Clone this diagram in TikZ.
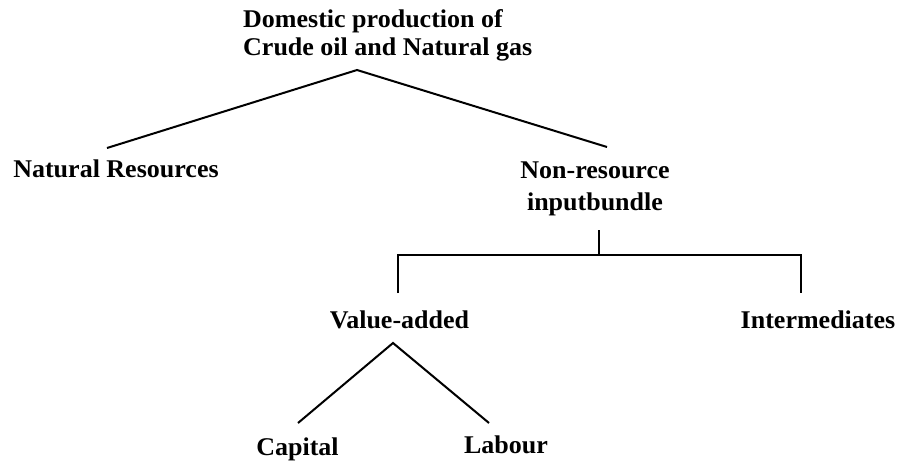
\documentclass[tikz,border=0pt]{standalone}
\usepackage{fontspec}
\setmainfont{Liberation Serif}[FakeStretch=1.02]
\begin{document}
\begin{tikzpicture}[x=1pt,y=-1pt,
  lbl/.style={inner sep=0pt,font=\fontsize{25.5}{28}\selectfont\bfseries},
  conn/.style={line width=2pt,line cap=butt,line join=miter}]
\useasboundingbox (0,0) rectangle (899,467);
% labels (multi-line nodes: base anchor is the last line's baseline)
\node[lbl,anchor=base west,align=left] (top) at (243,55) {Domestic production of\\Crude oil and Natural gas};
\node[lbl,anchor=base] (nat) at (116,177) {Natural Resources};
\node[lbl,anchor=base,align=center] (nonres) at (595,210) {Non-resource\\[4pt]inputbundle};
\node[lbl,anchor=base] (va) at (399.5,328) {Value-added};
\node[lbl,anchor=base] (inter) at (818,328) {Intermediates};
\node[lbl,anchor=base] (cap) at (297.5,455) {Capital};
\node[lbl,anchor=base] (lab) at (506,453) {Labour};
% connector points
\coordinate (topapex) at (357,70);
\coordinate (natend) at (107,148);
\coordinate (nonend) at (607,147);
\coordinate (nonstem) at (599,230);
\coordinate (junc) at (599,255);
\coordinate (vacorner) at (398,255);
\coordinate (vaend) at (398,293);
\coordinate (incorner) at (801,255);
\coordinate (inend) at (801,293);
\coordinate (vaapex) at (393,343);
\coordinate (capend) at (298,423);
\coordinate (labend) at (489,423);
% connectors
\draw[conn] (natend) -- (topapex) -- (nonend);
\draw[conn] (nonstem) -- (junc);
\draw[conn] (vaend) -- (vacorner) -- (incorner) -- (inend);
\draw[conn] (capend) -- (vaapex) -- (labend);
\end{tikzpicture}
\end{document}
